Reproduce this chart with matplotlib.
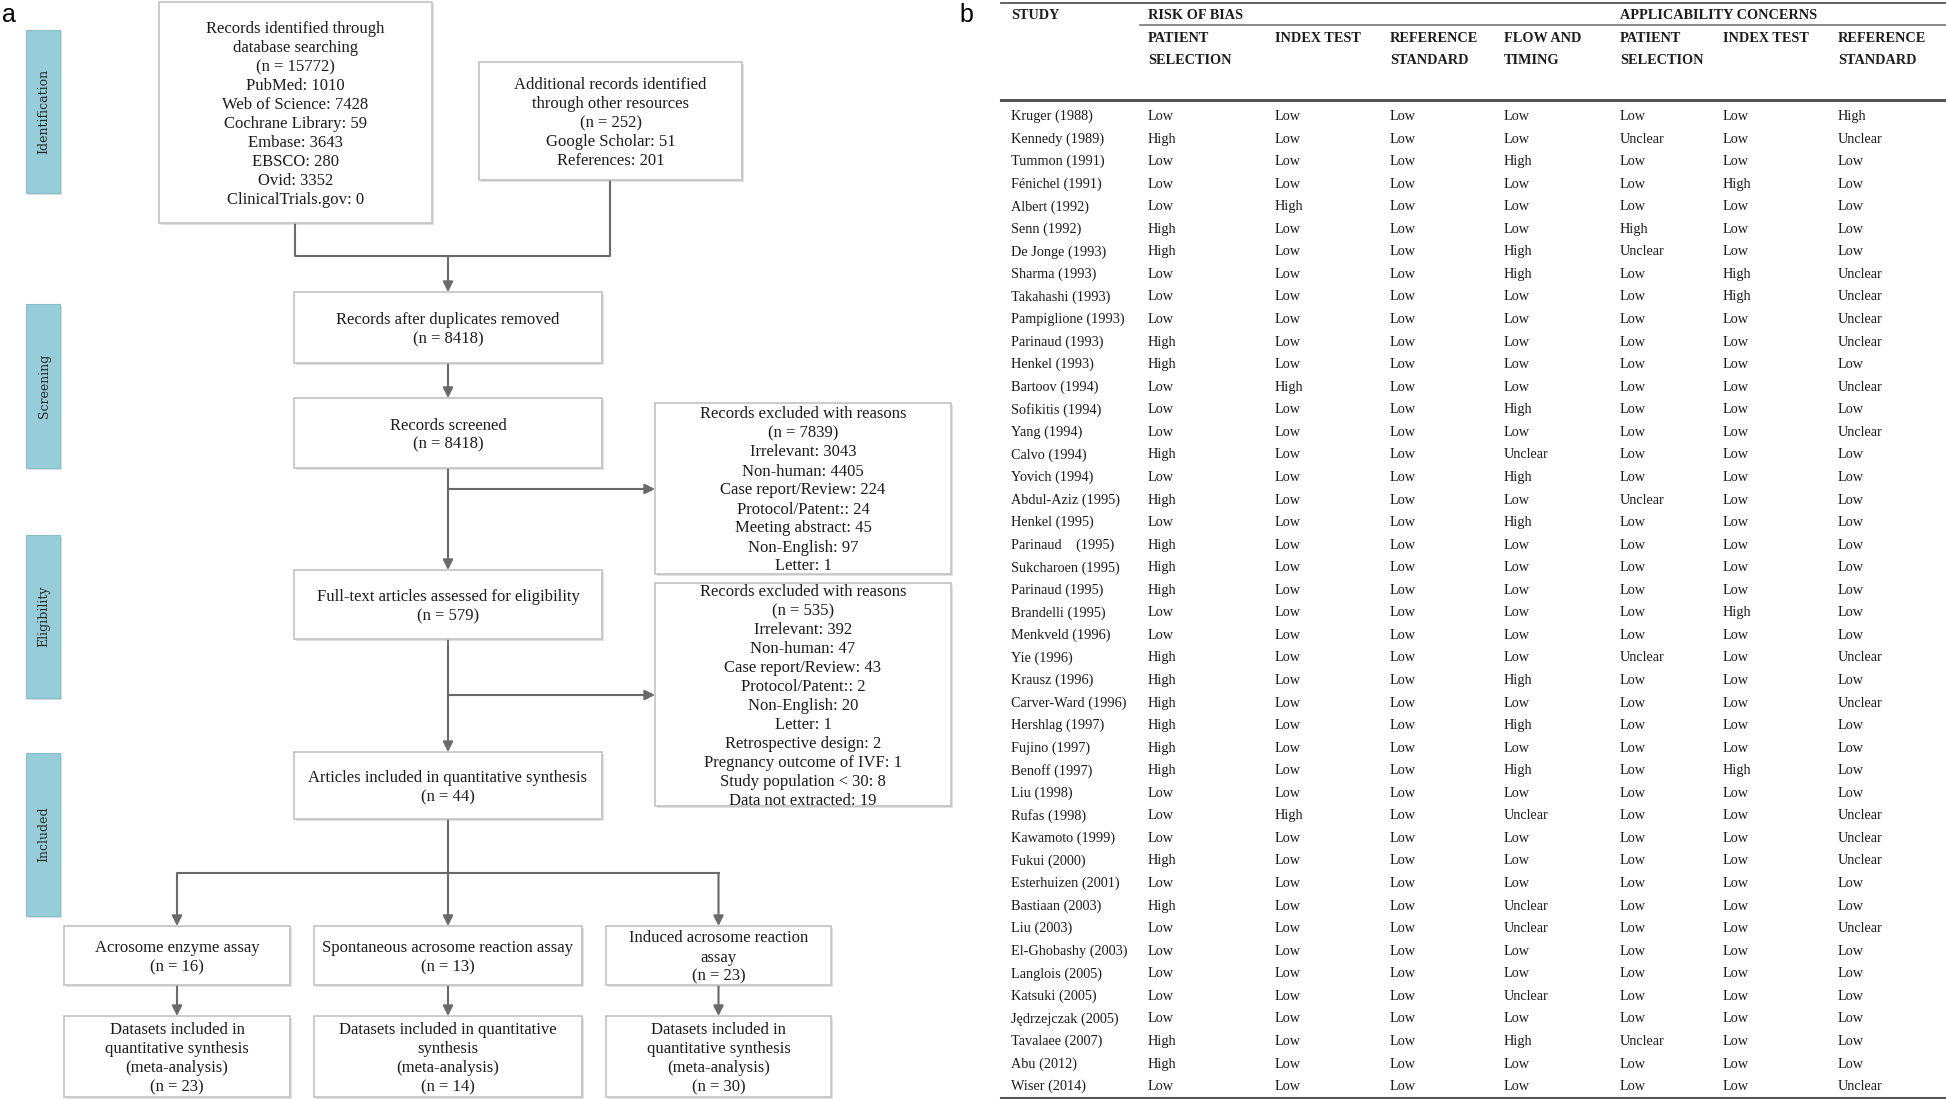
import matplotlib
matplotlib.use("Agg")
import matplotlib.pyplot as plt
from matplotlib.patches import Rectangle

# ---------------- panel a : PRISMA flow numbers ----------------
db_sources = ["PubMed", "Web of Science", "Cochrane Library", "Embase", "EBSCO", "Ovid", "ClinicalTrials.gov"]
db_counts = [1010, 7428, 59, 3643, 280, 3352, 0]
db_total = 15772
other_sources = ["Google Scholar", "References"]
other_counts = [51, 201]
other_total = 252
n_dedup = 8418
n_screened = 8418
excl1_reasons = ["Irrelevant", "Non-human", "Case report/Review", "Protocol/Patent:",
                 "Meeting abstract", "Non-English", "Letter"]
excl1_counts = [3043, 4405, 224, 24, 45, 97, 1]
excl1_total = 7839
n_fulltext = 579
excl2_reasons = ["Irrelevant", "Non-human", "Case report/Review", "Protocol/Patent:", "Non-English",
                 "Letter", "Retrospective design", "Pregnancy outcome of IVF",
                 "Study population < 30", "Data not extracted"]
excl2_counts = [392, 47, 43, 2, 20, 1, 2, 1, 8, 19]
excl2_total = 535
n_included = 44
assay_names = [["Acrosome enzyme assay"],
               ["Spontaneous acrosome reaction assay"],
               ["Induced acrosome reaction", "assay"]]
assay_studies = [16, 13, 23]
dataset_text = [["Datasets included in", "quantitative synthesis", "(meta-analysis)"],
                ["Datasets included in quantitative", "synthesis", "(meta-analysis)"],
                ["Datasets included in", "quantitative synthesis", "(meta-analysis)"]]
assay_datasets = [23, 14, 30]
phases = ["Identification", "Screening", "Eligibility", "Included"]

# ---------------- panel b : QUADAS-2 table ----------------
studies = ["Kruger (1988)", "Kennedy (1989)", "Tummon (1991)", "Fénichel (1991)", "Albert (1992)",
           "Senn (1992)", "De Jonge (1993)", "Sharma (1993)", "Takahashi (1993)", "Pampiglione (1993)",
           "Parinaud (1993)", "Henkel (1993)", "Bartoov (1994)", "Sofikitis (1994)", "Yang (1994)",
           "Calvo (1994)", "Yovich (1994)", "Abdul-Aziz (1995)", "Henkel (1995)", "Parinaud    (1995)",
           "Sukcharoen (1995)", "Parinaud (1995)", "Brandelli (1995)", "Menkveld (1996)", "Yie (1996)",
           "Krausz (1996)", "Carver-Ward (1996)", "Hershlag (1997)", "Fujino (1997)", "Benoff (1997)",
           "Liu (1998)", "Rufas (1998)", "Kawamoto (1999)", "Fukui (2000)", "Esterhuizen (2001)",
           "Bastiaan (2003)", "Liu (2003)", "El-Ghobashy (2003)", "Langlois (2005)", "Katsuki (2005)",
           "Jędrzejczak (2005)", "Tavalaee (2007)", "Abu (2012)", "Wiser (2014)"]

rob_patient = ("Low High Low Low Low High High Low Low Low High High Low Low Low High Low High Low High "
               "High High Low Low High High High High High High Low Low Low High Low High Low Low Low Low "
               "Low High High Low").split()
rob_index = ("Low Low Low Low High Low Low Low Low Low Low Low High Low Low Low Low Low Low Low "
             "Low Low Low Low Low Low Low Low Low Low Low High Low Low Low Low Low Low Low Low "
             "Low Low Low Low").split()
rob_reference = ["Low"] * 44
rob_flow = ("Low Low High Low Low Low High High Low Low Low Low Low High Low Unclear High Low High Low "
            "Low Low Low Low Low High Low High Low High Low Unclear Low Low Low Unclear Unclear Low Low Unclear "
            "Low High Low Low").split()
ac_patient = ("Low Unclear Low Low Low High Unclear Low Low Low Low Low Low Low Low Low Low Unclear Low Low "
              "Low Low Low Low Unclear Low Low Low Low Low Low Low Low Low Low Low Low Low Low Low "
              "Low Unclear Low Low").split()
ac_index = ("Low Low Low High Low Low Low High High Low Low Low Low Low Low Low Low Low Low Low "
            "Low Low High Low Low Low Low Low Low High Low Low Low Low Low Low Low Low Low Low "
            "Low Low Low Low").split()
ac_reference = ("High Unclear Low Low Low Low Low Unclear Unclear Unclear Unclear Low Unclear Low Unclear "
                "Low Low Low Low Low Low Low Low Low Unclear Low Unclear Low Low Low Low Unclear Unclear "
                "Unclear Low Low Unclear Low Low Low Low Low Low Unclear").split()
columns = [rob_patient, rob_index, rob_reference, rob_flow, ac_patient, ac_index, ac_reference]
col_headers = [["PATIENT", "SELECTION"], ["INDEX TEST"], ["REFERENCE", "STANDARD"], ["FLOW AND", "TIMING"],
               ["PATIENT", "SELECTION"], ["INDEX TEST"], ["REFERENCE", "STANDARD"]]

SERIF = "Liberation Serif"
LINE = "#6a6a6a"
TXT = "#1c1c1c"

fig = plt.figure(figsize=(19.46, 10.99), dpi=100)
ax = fig.add_axes([0, 0, 1, 1])
ax.set_xlim(0, 1946)
ax.set_ylim(1099, 0)
ax.axis("off")


def box(x0, y0, x1, y1, lines):
    ax.add_patch(Rectangle((x0 + 2, y0 + 2), x1 - x0, y1 - y0, fc="#e2e2e2", ec="none", zorder=1))
    ax.add_patch(Rectangle((x0, y0), x1 - x0, y1 - y0, fc="white", ec="#c2c2c2", lw=1.2, zorder=2))
    cx, cy = (x0 + x1) / 2, (y0 + y1) / 2
    n = len(lines)
    for k, s in enumerate(lines):
        ax.text(cx, cy + (k - (n - 1) / 2) * 19, s, ha="center", va="center_baseline",
                family=SERIF, fontsize=12, color=TXT, zorder=3)


def line(xs, ys):
    ax.plot(xs, ys, color=LINE, lw=1.5, solid_capstyle="butt", zorder=1)


def arrow(x0, y0, x1, y1):
    ax.annotate("", xy=(x1, y1), xytext=(x0, y0), zorder=1,
                arrowprops=dict(arrowstyle="-|>,head_length=0.6,head_width=0.3", color=LINE,
                                lw=1.5, shrinkA=0, shrinkB=0, mutation_scale=10))


# phase side bars
for name, (y0, y1) in zip(phases, [(30, 193), (304, 468), (535, 698), (753, 916)]):
    ax.add_patch(Rectangle((28, y0 + 2), 34, y1 - y0, fc="#dedede", ec="none"))
    ax.add_patch(Rectangle((26, y0), 34, y1 - y0, fc="#96cdd8", ec="#86bfcc", lw=0.8))
    ax.text(44, (y0 + y1) / 2, name, rotation=90, ha="center", va="center",
            family="DejaVu Serif", fontsize=9, color="#2a2a2a")

# boxes
box(159, 2, 432, 223, ["Records identified through", "database searching", f"(n = {db_total})"] +
    [f"{s}: {c}" for s, c in zip(db_sources, db_counts)])
box(479, 62, 742, 180, ["Additional records identified", "through other resources", f"(n = {other_total})"] +
    [f"{s}: {c}" for s, c in zip(other_sources, other_counts)])
box(294, 292, 602, 363, ["Records after duplicates removed", f"(n = {n_dedup})"])
box(294, 398, 602, 468, ["Records screened", f"(n = {n_screened})"])
box(655, 403, 951, 574, ["Records excluded with reasons", f"(n = {excl1_total})"] +
    [f"{s}: {c}" for s, c in zip(excl1_reasons, excl1_counts)])
box(294, 570, 602, 639, ["Full-text articles assessed for eligibility", f"(n = {n_fulltext})"])
box(655, 583, 951, 806, ["Records excluded with reasons", f"(n = {excl2_total})"] +
    [f"{s}: {c}" for s, c in zip(excl2_reasons, excl2_counts)])
box(294, 752, 602, 819, ["Articles included in quantitative synthesis", f"(n = {n_included})"])

branch_x = [(64, 290), (314, 582), (606, 831)]
for (x0, x1), nm, ns, dt, nd in zip(branch_x, assay_names, assay_studies, dataset_text, assay_datasets):
    box(x0, 926, x1, 985, nm + [f"(n = {ns})"])
    box(x0, 1016, x1, 1097, dt + [f"(n = {nd})"])
    cx = (x0 + x1) / 2
    arrow(cx, 873, cx, 926)
    arrow(cx, 985, cx, 1016)

# connectors
line([295, 295, 610, 610], [223, 256, 256, 180])
arrow(448, 256, 448, 292)
arrow(448, 363, 448, 398)
arrow(448, 468, 448, 570)
arrow(448, 489, 655, 489)
arrow(448, 639, 448, 752)
arrow(448, 695, 655, 695)
line([448, 448], [819, 873])
line([177, 720], [873, 873])

ax.text(2, 22, "a", family="Liberation Sans", fontsize=18, color="black")
ax.text(959, 22, "b", family="Liberation Sans", fontsize=18, color="black")

# ---------------- table ----------------
study_x = 1011
col_x = [1148, 1275, 1390, 1504, 1620, 1723, 1838]
row0, pitch = 115, 22.56
fs = 10.3

ax.plot([1001, 1946], [3, 3], color="#555555", lw=1.3)
ax.plot([1140, 1946], [25, 25], color="#777777", lw=1.2)
ax.plot([1001, 1946], [100, 100], color="#555555", lw=2.2)
ax.plot([1001, 1946], [1098, 1098], color="#555555", lw=2.2)

hdr = dict(family=SERIF, fontsize=fs, fontweight="bold", color=TXT, va="center_baseline", ha="left")
ax.text(study_x, 14, "STUDY", **hdr)
ax.text(col_x[0], 14, "RISK OF BIAS", **hdr)
ax.text(col_x[4], 14, "APPLICABILITY CONCERNS", **hdr)
for x, h in zip(col_x, col_headers):
    for k, s in enumerate(h):
        ax.text(x, 37 + k * 22, s, **hdr)

for i, st in enumerate(studies):
    y = row0 + i * pitch
    ax.text(study_x, y, st, family=SERIF, fontsize=fs, color=TXT, va="center_baseline", ha="left")
    for x, col in zip(col_x, columns):
        ax.text(x, y, col[i], family=SERIF, fontsize=fs, color=TXT, va="center_baseline", ha="left")

fig.savefig("out.png", dpi=100)
